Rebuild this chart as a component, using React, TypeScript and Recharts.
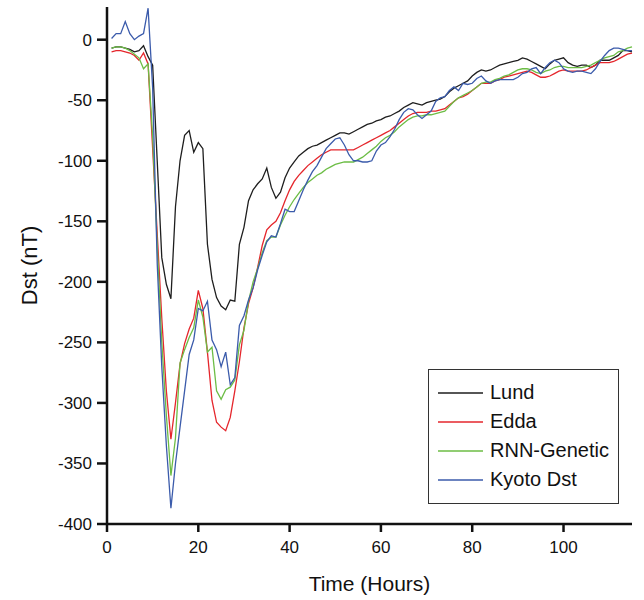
import { LineChart, Line, XAxis, YAxis } from 'recharts';

// Dst storm, hourly values starting at hour 1
const startHour = 1;

const kyotoDst = [
  1, 5, 5, 15, 5, 0, 3, 5, 26, -40,
  -185, -270, -335, -387, -350, -320, -290, -260, -248, -222,
  -224, -216, -248, -256, -270, -258, -285, -279, -236, -228,
  -215, -205, -190, -178, -167, -162, -163, -152, -140, -142,
  -142, -133, -124, -116, -109, -104, -97, -90, -86, -82,
  -81, -87, -95, -100, -100, -101, -101, -100, -92, -87,
  -85, -80, -74, -66, -60, -57, -58, -62, -65, -62,
  -59, -51, -48, -47, -42, -39, -42, -36, -37, -36,
  -32, -30, -34, -36, -34, -33, -33, -33, -33, -31,
  -28, -27, -24, -23, -28, -23, -19, -17, -19, -24,
  -26, -27, -26, -26, -27, -28, -24, -18, -13, -9,
  -7, -7, -8, -9, -9,
];

const lund = [
  -7, -6, -6, -7, -8, -10, -9, -5, -14, -21,
  -100, -180, -202, -214, -138, -100, -79, -75, -93, -85,
  -90, -169, -198, -213, -220, -223, -215, -216, -169, -155,
  -133, -124, -119, -115, -106, -122, -131, -126, -114, -106,
  -101, -96, -93, -90, -88, -87, -85, -83, -81, -79,
  -77, -77, -78, -76, -74, -72, -70, -69, -67, -66,
  -64, -63, -61, -59, -56, -54, -52, -53, -54, -52,
  -51, -50, -49, -47, -43, -40, -38, -36, -34, -30,
  -27, -25, -26, -25, -23, -21, -20, -19, -18, -17,
  -15, -16, -18, -20, -22, -24, -20, -17, -16, -15,
  -19, -21, -22, -21, -21, -23, -21, -17, -17, -17,
  -15, -13, -9, -9, -10,
];

const edda = [
  -10, -9, -9, -10, -11, -13, -17, -11, -20, -90,
  -160, -230, -290, -330, -300, -268, -251, -239, -230, -207,
  -222, -258, -298, -316, -320, -323, -312, -290, -266, -238,
  -218, -205, -188, -170, -157, -153, -150, -143, -133, -124,
  -117, -112, -108, -104, -101, -98, -95, -93, -91, -91,
  -91, -91, -91, -91, -89, -87, -85, -83, -81, -79,
  -77, -75, -72, -69, -66, -63, -61, -60, -60, -60,
  -59, -59, -58, -57, -54, -51, -48, -47, -45, -42,
  -39, -36, -36, -36, -34, -33, -31, -30, -29, -28,
  -27, -26, -27, -29, -31, -31, -30, -28, -26, -25,
  -26, -26, -26, -26, -25, -23, -21, -19, -19, -19,
  -18, -16, -14, -12, -11,
];

const rnnGenetic = [
  -7, -6, -6, -7, -9, -12, -15, -24, -20, -80,
  -170, -250, -310, -360, -329, -267, -256, -246, -238, -215,
  -229, -258, -254, -290, -297, -289, -287, -281, -252, -240,
  -216, -200, -189, -176, -166, -163, -163, -153, -145, -138,
  -132, -127, -122, -118, -115, -112, -110, -107, -105, -103,
  -102, -101, -101, -101, -99, -97, -94, -91, -88, -84,
  -81, -79, -76, -72, -69, -66, -64, -63, -63, -62,
  -62, -61, -60, -59, -55, -51, -48, -46, -44, -42,
  -39, -36, -35, -35, -33, -32, -30, -29, -27, -25,
  -24, -24, -25, -27, -28, -26, -25, -23, -22, -22,
  -23, -23, -23, -23, -22, -21, -19, -17, -15, -14,
  -13, -10, -9, -7, -6,
];

const xTicks = [0, 20, 40, 60, 80, 100];
const yTicks = [0, -50, -100, -150, -200, -250, -300, -350, -400];

const seriesInfo = [
  { key: 'lund', name: 'Lund', color: '#1e1e1e' },
  { key: 'edda', name: 'Edda', color: '#e5262c' },
  { key: 'rnn', name: 'RNN-Genetic', color: '#6cbd45' },
  { key: 'kyoto', name: 'Kyoto Dst', color: '#3b5bab' },
];

const data = kyotoDst.map((v, i) => ({
  hour: startHour + i,
  kyoto: v,
  lund: lund[i],
  edda: edda[i],
  rnn: rnnGenetic[i],
}));

const font = '"Liberation Sans", Arial, sans-serif';

function ChartLegend() {
  return (
    <div
      style={{
        position: 'absolute',
        left: 428,
        top: 369,
        width: 191,
        height: 135,
        border: '1.5px solid #333',
        background: '#fff',
        padding: '8px 0 10px 9px',
        fontFamily: font,
        fontSize: 20,
        color: '#111',
        boxSizing: 'border-box',
      }}
    >
      {seriesInfo.map((s) => (
        <div key={s.key} style={{ display: 'flex', alignItems: 'center', height: 29 }}>
          <svg width={45} height={4} style={{ marginRight: 7 }}>
            <line x1={0} y1={2} x2={45} y2={2} stroke={s.color} strokeWidth={1.5} />
          </svg>
          <span>{s.name}</span>
        </div>
      ))}
    </div>
  );
}

export default function App() {
  return (
    <div style={{ position: 'absolute', left: 0, top: 0, width: 644, height: 600, background: '#fff' }}>
      <LineChart
        width={644}
        height={600}
        data={data}
        margin={{ top: 7, right: 12, bottom: 0, left: 0 }}
      >
        <XAxis
          dataKey="hour"
          type="number"
          domain={[0, 115]}
          ticks={xTicks}
          height={76}
          tickSize={8}
          tickMargin={9}
          stroke="#111"
          strokeWidth={2.5}
          tick={{ fill: '#111', fontSize: 17, fontFamily: font }}
          label={{ value: 'Time (Hours)', position: 'insideBottom', offset: 9, fill: '#111', fontSize: 21, fontFamily: font }}
        />
        <XAxis xAxisId="top" orientation="top" dataKey="hour" type="number" domain={[0, 115]} height={0} tick={false} tickLine={false} stroke="#111" strokeWidth={1.5} />
        <YAxis
          type="number"
          domain={[-400, 27]}
          ticks={yTicks}
          width={107}
          tickSize={10}
          tickMargin={5}
          stroke="#111"
          strokeWidth={2.5}
          allowDataOverflow
          tick={{ fill: '#111', fontSize: 17, fontFamily: font }}
          label={{ value: 'Dst (nT)', angle: -90, position: 'insideLeft', offset: 29, fill: '#111', fontSize: 22, fontFamily: font, style: { textAnchor: 'middle' } }}
        />
        <YAxis yAxisId="right" orientation="right" type="number" domain={[-400, 27]} width={0} tick={false} tickLine={false} stroke="#111" strokeWidth={1.5} />
        {seriesInfo.map((s) => (
          <Line
            key={s.key}
            type="linear"
            dataKey={s.key}
            name={s.name}
            stroke={s.color}
            strokeWidth={1.3}
            dot={false}
            isAnimationActive={false}
          />
        ))}
      </LineChart>
      <ChartLegend />
    </div>
  );
}
